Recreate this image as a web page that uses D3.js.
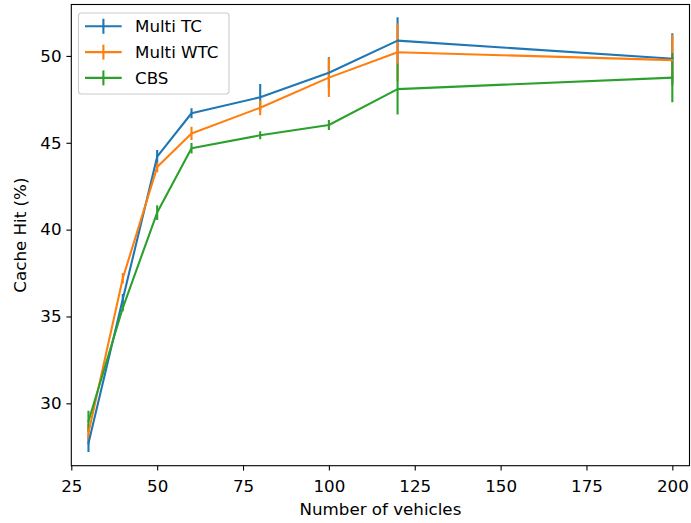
<!DOCTYPE html>
<html lang="en">
<head>
	<meta charset="UTF-8">
	<title>Cache Hit</title>
	<style>
		body { margin: 0; background: #fff; }
		text { font-family: "DejaVu Sans", sans-serif; }
	</style>
</head>
<body>
	<script src="https://d3js.org/d3.v7.min.js"></script>
	<script type="text/javascript">
		// x values (number of vehicles)
		var vehicles = [30, 40, 50, 60, 80, 100, 120, 200];
		// mean cache hit (%) per series
		var multiTC  = [27.7, 36.0, 44.2, 46.7, 47.62, 49.03, 50.88, 49.84];
		var multiWTC = [28.3, 37.2, 43.6, 45.54, 47.02, 48.75, 50.21, 49.76];
		var cbs      = [28.97, 35.5, 40.98, 44.68, 45.43, 46.02, 48.09, 48.75];
		// error bar half-heights
		var errTC  = [0.5, 0.3, 0.38, 0.29, 0.77, 0.89, 1.35, 1.46];
		var errWTC = [0.49, 0.3, 0.3, 0.38, 0.43, 1.12, 1.67, 1.48];
		var errCBS = [0.6, 0.2, 0.43, 0.3, 0.23, 0.29, 1.46, 1.42];
		var xTicks = [25, 50, 75, 100, 125, 150, 175, 200];
		var yTicks = [30, 35, 40, 45, 50];

		var series = [
			{name: "Multi TC", color: "#1f77b4", values: multiTC, err: errTC},
			{name: "Multi WTC", color: "#ff7f0e", values: multiWTC, err: errWTC},
			{name: "CBS", color: "#2ca02c", values: cbs, err: errCBS}
		];

		var W = 691, H = 523;
		var mLeft = 71.3, mRight = 689.5, mTop = 4.5, mBottom = 465.7;
		var fs = "16.7px";

		var svg = d3.select("body").append("svg").attr("width", W).attr("height", H);

		var x = d3.scaleLinear().domain([25, 205]).range([mLeft, mRight]);
		var y = d3.scaleLinear().domain([26.41, 52.96]).range([mBottom, mTop]);

		svg.append("clipPath").attr("id", "plot")
			.append("rect").attr("x", mLeft).attr("y", mTop)
			.attr("width", mRight - mLeft).attr("height", mBottom - mTop);

		var plot = svg.append("g").attr("clip-path", "url(#plot)");

		// error bars first, then the lines on top
		series.forEach(function(s) {
			plot.selectAll(null).data(vehicles).enter().append("line")
				.attr("x1", function(d) { return x(d); })
				.attr("x2", function(d) { return x(d); })
				.attr("y1", function(d, i) { return y(s.values[i] - s.err[i]); })
				.attr("y2", function(d, i) { return y(s.values[i] + s.err[i]); })
				.attr("stroke", s.color).attr("stroke-width", 2.1);
		});

		var line = d3.line()
			.x(function(d) { return x(d[0]); })
			.y(function(d) { return y(d[1]); });

		series.forEach(function(s) {
			plot.append("path")
				.datum(vehicles.map(function(v, i) { return [v, s.values[i]]; }))
				.attr("d", line)
				.attr("fill", "none")
				.attr("stroke", s.color)
				.attr("stroke-width", 2.1)
				.attr("stroke-linejoin", "round")
				.attr("stroke-linecap", "square");
		});

		// axes
		var xAxis = d3.axisBottom(x).tickValues(xTicks).tickSize(4.9).tickPadding(4.9);
		var yAxis = d3.axisLeft(y).tickValues(yTicks).tickSize(4.9).tickPadding(4.9);

		var gx = svg.append("g").attr("transform", "translate(0," + mBottom + ")").call(xAxis);
		var gy = svg.append("g").attr("transform", "translate(" + mLeft + ",0)").call(yAxis);
		[gx, gy].forEach(function(g) {
			g.select(".domain").remove();
			g.selectAll(".tick line").attr("stroke", "#000").attr("stroke-width", 1.1);
			g.selectAll(".tick text").attr("fill", "#000").style("font-size", fs)
				.style("font-family", "DejaVu Sans, sans-serif");
		});
		gx.selectAll(".tick text").attr("y", 26).attr("dy", null);

		svg.append("rect").attr("x", mLeft).attr("y", mTop)
			.attr("width", mRight - mLeft).attr("height", mBottom - mTop)
			.attr("fill", "none").attr("stroke", "#000").attr("stroke-width", 1.1);

		svg.append("text").attr("x", (mLeft + mRight) / 2).attr("y", 515)
			.attr("text-anchor", "middle").style("font-size", fs)
			.text("Number of vehicles");

		svg.append("text")
			.attr("transform", "translate(25.5," + (mTop + mBottom) / 2 + ") rotate(-90)")
			.attr("text-anchor", "middle").style("font-size", fs)
			.text("Cache Hit (%)");

		// legend
		var legend = svg.append("g");
		legend.append("rect").attr("x", 78.5).attr("y", 13).attr("width", 150.5).attr("height", 81)
			.attr("rx", 3).attr("fill", "#fff").attr("fill-opacity", 0.8)
			.attr("stroke", "#ccc").attr("stroke-width", 1.1);

		var items = legend.selectAll("g.item").data(series).enter().append("g")
			.attr("transform", function(d, i) { return "translate(0," + (26.3 + i * 25.8) + ")"; });
		items.append("line").attr("x1", 85).attr("x2", 121.7).attr("y1", 0).attr("y2", 0)
			.attr("stroke", function(d) { return d.color; }).attr("stroke-width", 2.1);
		items.append("line").attr("x1", 103.4).attr("x2", 103.4).attr("y1", -7.5).attr("y2", 7.5)
			.attr("stroke", function(d) { return d.color; }).attr("stroke-width", 2.1);
		items.append("text").attr("x", 135).attr("y", 6).style("font-size", fs)
			.text(function(d) { return d.name; });
	</script>
</body>
</html>
